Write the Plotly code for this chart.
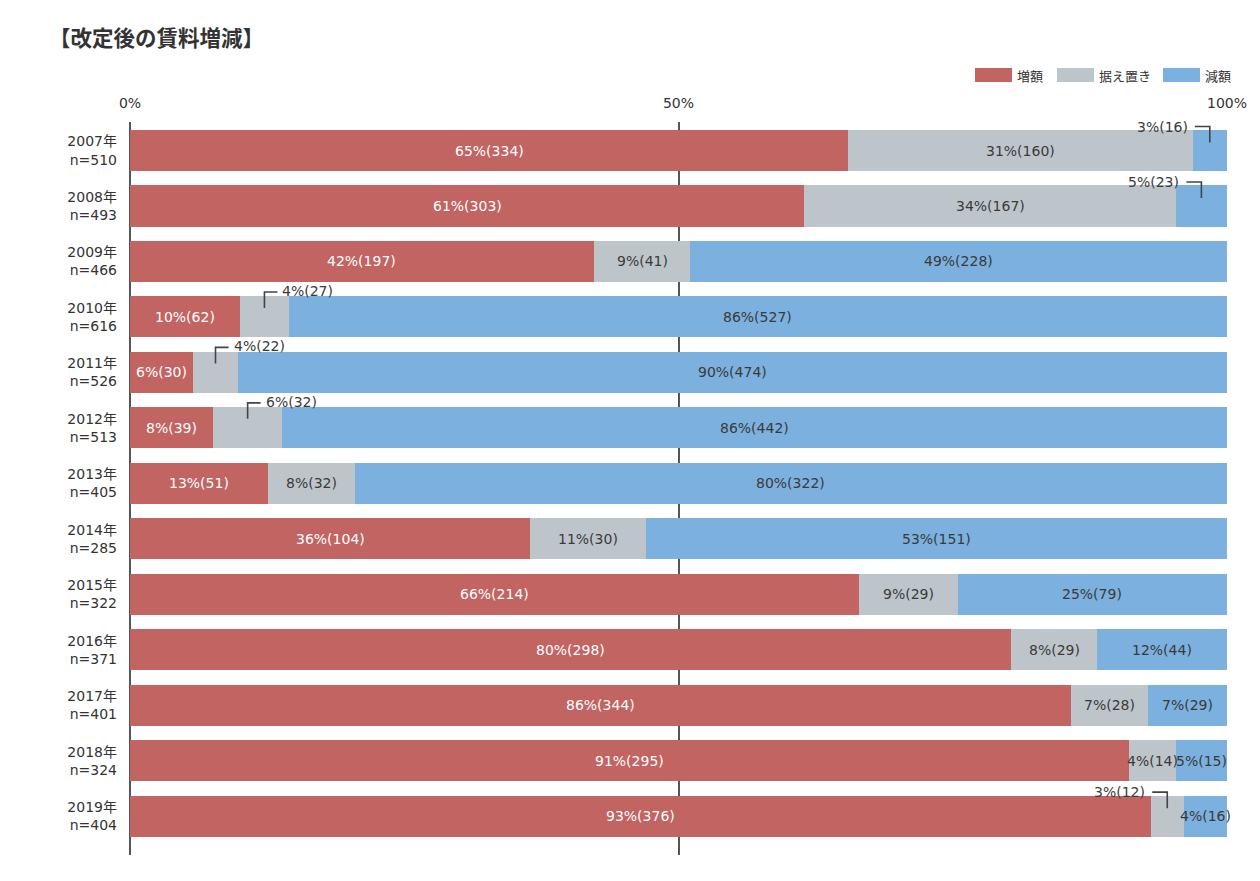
import plotly.graph_objects as go

# ---------------- data ----------------
years = ["2007年", "2008年", "2009年", "2010年", "2011年", "2012年", "2013年",
         "2014年", "2015年", "2016年", "2017年", "2018年", "2019年"]
n_total = [510, 493, 466, 616, 526, 513, 405, 285, 322, 371, 401, 324, 404]
series_names = ["増額", "据え置き", "減額"]
increase_cnt = [334, 303, 197, 62, 30, 39, 51, 104, 214, 298, 344, 295, 376]
flat_cnt = [160, 167, 41, 27, 22, 32, 32, 30, 29, 29, 28, 14, 12]
decrease_cnt = [16, 23, 228, 527, 474, 442, 322, 151, 79, 44, 29, 15, 16]
increase_pct = [65, 61, 42, 10, 6, 8, 13, 36, 66, 80, 86, 91, 93]
flat_pct = [31, 34, 9, 4, 4, 6, 8, 11, 9, 8, 7, 4, 3]
decrease_pct = [3, 5, 49, 86, 90, 86, 80, 53, 25, 12, 7, 5, 4]
x_tick_vals = [0, 50, 100]
x_tick_text = ["0%", "50%", "100%"]
# labels drawn outside their segment with a bracket: (year index, series index, side)
callouts = [(0, 2, "left"), (1, 2, "left"), (3, 1, "right"), (4, 1, "right"),
            (5, 1, "right"), (12, 1, "left")]

# ---------------- styling ----------------
colors = ["#C16462", "#BEC5CA", "#7CB0DE"]
text_colors = ["#FFFFFF", "#3A3A3A", "#3A3A3A"]
FONT = "DejaVu Sans, Noto Sans CJK JP"
CJK = "Noto Sans CJK JP"
LBL = 14
counts = [increase_cnt, flat_cnt, decrease_cnt]
pcts = [increase_pct, flat_pct, decrease_pct]

ypos = list(range(len(years)))
shares = [[c / n * 100 for c, n in zip(cnt, n_total)] for cnt in counts]

fig = go.Figure()
for s, name in enumerate(series_names):
    fig.add_trace(go.Bar(
        y=ypos, x=shares[s], orientation="h", name=name,
        marker=dict(color=colors[s], line=dict(width=0)),
        showlegend=False, hoverinfo="skip",
    ))

annotations = []
shapes = []
callout_set = {(i, s): side for i, s, side in callouts}
for i in ypos:
    start = 0.0
    for s in range(3):
        w = shares[s][i]
        cx = start + w / 2
        label = f"{pcts[s][i]}%({counts[s][i]})"
        side = callout_set.get((i, s))
        if side is None:
            annotations.append(dict(
                x=cx, y=i, xref="x", yref="y", text=label, showarrow=False,
                font=dict(family=FONT, size=LBL, color=text_colors[s]),
                xanchor="center", yanchor="middle"))
        elif side == "left":
            shapes.append(dict(
                type="path", xref="x", yref="y", xsizemode="pixel", ysizemode="pixel",
                xanchor=cx, yanchor=i, path="M-15,24 H0 V8",
                line=dict(color="#444444", width=1.6)))
            annotations.append(dict(
                x=cx, y=i, xref="x", yref="y", text=label, showarrow=False,
                xshift=-20, yshift=24,
                font=dict(family=FONT, size=LBL, color="#3A3A3A"),
                xanchor="right", yanchor="middle"))
        else:
            shapes.append(dict(
                type="path", xref="x", yref="y", xsizemode="pixel", ysizemode="pixel",
                xanchor=cx, yanchor=i, path="M0,9 V25 H13",
                line=dict(color="#444444", width=1.6)))
            annotations.append(dict(
                x=cx, y=i, xref="x", yref="y", text=label, showarrow=False,
                xshift=16, yshift=26,
                font=dict(family=FONT, size=LBL, color="#3A3A3A"),
                xanchor="left", yanchor="middle"))
        start += w

# custom legend (wide colour swatches as in the reference)
W, H = 1260, 881
ML, MR, MT, MB = 130, 33, 122, 26
pw, ph = W - ML - MR, H - MT - MB
def px_x(x):
    return (x - ML) / pw
def px_y(y):
    return (H - MB - y) / ph
legend_x = [975, 1057, 1163]
for s, name in enumerate(series_names):
    x0 = legend_x[s]
    shapes.append(dict(type="rect", xref="paper", yref="paper",
                       x0=px_x(x0), x1=px_x(x0 + 37), y0=px_y(82), y1=px_y(68),
                       fillcolor=colors[s], line=dict(width=0)))
    annotations.append(dict(x=px_x(x0 + 40), y=px_y(75), xref="paper", yref="paper",
                            text=name, showarrow=False, xanchor="left", yanchor="middle",
                            font=dict(family=CJK, size=13, color="#333333")))

fig.update_layout(
    width=W, height=H,
    margin=dict(l=ML, r=MR, t=MT, b=MB, pad=0),
    barmode="stack", bargap=0.26,
    plot_bgcolor="white", paper_bgcolor="white",
    font=dict(family=FONT, color="#333333", size=13),
    title=dict(text="<b>【改定後の賃料増減】</b>", x=49 / W, xanchor="left",
               y=1 - 38 / H, yanchor="middle", xref="container", yref="container",
               font=dict(family=CJK, size=21.5, color="#333333")),
    xaxis=dict(range=[0, 100], side="top", tickvals=x_tick_vals, ticktext=x_tick_text,
               showgrid=True, gridcolor="#555555", gridwidth=1.5,
               zeroline=True, zerolinecolor="#555555", zerolinewidth=1.5,
               showline=False, ticks="", ticklabelstandoff=10,
               tickfont=dict(family=FONT, size=14, color="#333333"), fixedrange=True),
    yaxis=dict(range=[12.70, -0.514], tickvals=ypos,
               ticktext=[f"{y}<br>n={n}" for y, n in zip(years, n_total)],
               showgrid=False, zeroline=False, showline=False, ticks="",
               ticklabelstandoff=12,
               tickfont=dict(family=FONT, size=14, color="#333333"), fixedrange=True),
    shapes=shapes, annotations=annotations,
)

fig.write_html("out.html")
